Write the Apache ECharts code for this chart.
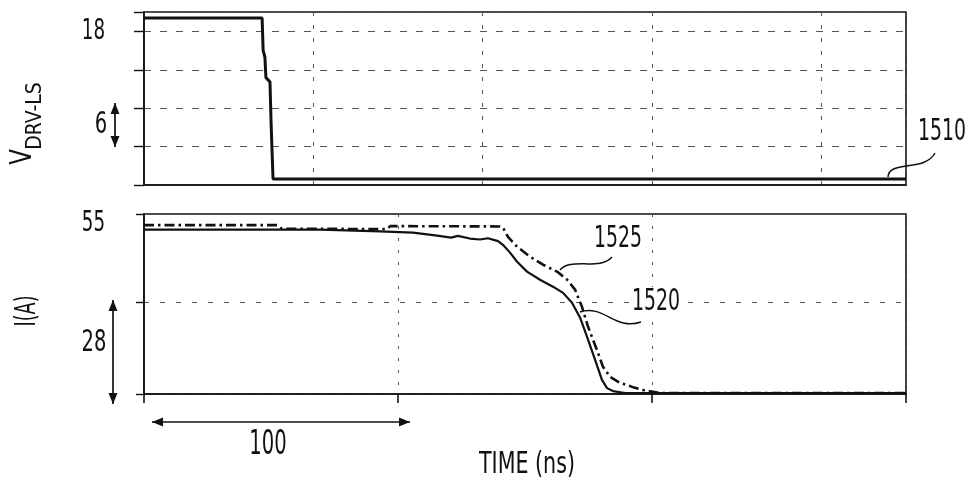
<!DOCTYPE html>
<html>
<head>
<meta charset="utf-8">
<script src="https://cdn.jsdelivr.net/npm/echarts@6/dist/echarts.min.js"></script>
<style>
  html, body { margin: 0; padding: 0; background: #fff; }
  #c { width: 974px; height: 487px; }
</style>
</head>
<body>
<div id="c"></div>
<script>
// Low-side gate drive voltage, trace 1510
const driveTime = [0, 46.5, 46.9, 47.6, 48.0, 49.6, 50.0, 50.4, 50.8, 300];
const driveVolt = [19.6, 19.6, 15.8, 15.0, 12.6, 12.1, 7.6, 4.1, 0.7, 0.7];

// Switch current, trace 1520 (solid)
const i1520Time = [0, 52.4, 69.3, 92.9, 105.9, 115.4, 120.9, 123.6, 128.3, 132.3, 135.4, 139.4,
  141.3, 144.1, 146.9, 150.8, 155.9, 161.0, 165.0, 168.5, 171.7, 174.4, 177.6, 180.3, 182.3,
  184.6, 189.4, 300];
const i1520Amp = [50.2, 50.2, 50.2, 49.7, 49.3, 48.4, 47.8, 48.3, 47.5, 47.2, 47.6, 46.7,
  45.6, 43.2, 40.4, 37.4, 34.9, 32.8, 30.9, 27.9, 23.3, 17.5, 10.4, 4.3, 1.8,
  0.9, 0.3, 0.3];

// Switch current, trace 1525 (dash-dot)
const i1525Time = [0, 52.4, 54.3, 95.7, 96.9, 140.2, 141.3, 143.3, 146.9, 151.9, 157.1, 162.6,
  166.5, 169.7, 172.4, 174.8, 178.3, 180.7, 183.5, 187.4, 192.5, 196.5, 203, 300];
const i1525Amp = [51.6, 51.6, 50.5, 50.4, 51.3, 51.2, 50.9, 48.0, 45.0, 42.0, 39.5, 37.4,
  35.0, 31.9, 26.7, 20.6, 13.5, 8.3, 5.2, 3.4, 2.1, 1.2, 0.3, 0.3];

// Printed tick labels on the value axes
const driveTickValues = [18];
const currentTickValues = [55];

// Scale-bar and reference-numeral texts
const driveScaleText = '6';
const currentScaleText = '28';
const timeScaleText = '100';
const timeAxisName = 'TIME (ns)';
const driveAxisMain = 'V';
const driveAxisSub = 'DRV-LS';
const currentAxisName = 'I(A)';
const refDrive = '1510';
const refSolid = '1520';
const refDashDot = '1525';

const FONT = '"Liberation Sans Narrow", "DejaVu Sans Condensed", "Liberation Sans", sans-serif';
const INK = '#111';
const NARROW = 0.7;   // horizontal squeeze for the condensed lettering

const pairs = (xs, ys) => xs.map((x, i) => [x, ys[i]]);

function txt(x, y, text, size, opts) {
  opts = opts || {};
  const el = {
    type: 'text', x: x, y: y, silent: true,
    scaleX: opts.scaleX !== undefined ? opts.scaleX : NARROW,
    style: Object.assign({
      text: text, fontSize: size, fontFamily: FONT, fill: INK,
      align: opts.align || 'center', verticalAlign: opts.verticalAlign || 'middle'
    }, opts.style || {})
  };
  if (opts.rotation !== undefined) el.rotation = opts.rotation;
  return el;
}

// Double-headed arrow built from a shaft and two filled heads
function arrow(x1, y1, x2, y2) {
  const len = Math.hypot(x2 - x1, y2 - y1);
  const ux = (x2 - x1) / len, uy = (y2 - y1) / len;
  const px = -uy, py = ux;
  const hl = 11, hw = 4.5;
  const head = (tx, ty, dx, dy) => ({
    type: 'polygon', silent: true,
    shape: { points: [[tx, ty], [tx - dx * hl + px * hw, ty - dy * hl + py * hw], [tx - dx * hl - px * hw, ty - dy * hl - py * hw]] },
    style: { fill: INK }
  });
  return [
    { type: 'line', silent: true, shape: { x1: x1, y1: y1, x2: x2, y2: y2 }, style: { stroke: INK, lineWidth: 1.7 } },
    head(x2, y2, ux, uy),
    head(x1, y1, -ux, -uy)
  ];
}

function leader(x1, y1, c1x, c1y, c2x, c2y, x2, y2) {
  return {
    type: 'bezierCurve', silent: true,
    shape: { x1: x1, y1: y1, cpx1: c1x, cpy1: c1y, cpx2: c2x, cpy2: c2y, x2: x2, y2: y2 },
    style: { stroke: INK, lineWidth: 1.5, fill: null }
  };
}

const chart = echarts.init(document.getElementById('c'), null, { renderer: 'canvas' });

const gridLine = (dash, color) => ({ show: true, lineStyle: { type: dash, color: color, width: 1 } });

chart.setOption({
  animation: false,
  backgroundColor: '#fff',
  grid: [
    { left: 144, top: 12, width: 762, height: 173, show: true, borderColor: INK, borderWidth: 1.6, backgroundColor: 'transparent' },
    { left: 144, top: 214, width: 762, height: 180, show: true, borderColor: INK, borderWidth: 1.6, backgroundColor: 'transparent' }
  ],
  xAxis: [
    {
      gridIndex: 0, type: 'value', min: 0, max: 300, interval: 200 / 3,
      axisLine: { show: true, lineStyle: { color: INK, width: 1.6 } },
      axisTick: { show: false }, axisLabel: { show: false },
      splitLine: gridLine([4, 9], '#555')
    },
    {
      gridIndex: 1, type: 'value', min: 0, max: 300, interval: 100,
      axisLine: { show: true, lineStyle: { color: INK, width: 1.6 } },
      axisTick: { show: true, inside: false, length: 9, lineStyle: { color: INK, width: 1.6 } },
      axisLabel: { show: false },
      splitLine: gridLine([3, 9], '#555')
    }
  ],
  yAxis: [
    {
      gridIndex: 0, type: 'value', min: 0, max: 20.3, interval: 4.5,
      axisLine: { show: true, lineStyle: { color: INK, width: 1.6 } },
      axisTick: { show: true, length: 10, lineStyle: { color: INK, width: 1.4 } },
      axisLabel: { show: false },
      splitLine: gridLine([7, 9], '#555')
    },
    {
      gridIndex: 1, type: 'value', min: 0, max: 55, interval: 28,
      axisLine: { show: true, lineStyle: { color: INK, width: 1.6 } },
      axisTick: { show: true, length: 8, lineStyle: { color: INK, width: 1.4 } },
      axisLabel: { show: false },
      splitLine: gridLine([5, 11], '#555')
    }
  ],
  series: [
    {
      name: refDrive, type: 'line', xAxisIndex: 0, yAxisIndex: 0,
      data: pairs(driveTime, driveVolt), showSymbol: false, smooth: false,
      lineStyle: { color: INK, width: 3 }
    },
    {
      name: refSolid, type: 'line', xAxisIndex: 1, yAxisIndex: 1,
      data: pairs(i1520Time, i1520Amp), showSymbol: false, smooth: false,
      lineStyle: { color: INK, width: 2.2 }
    },
    {
      name: refDashDot, type: 'line', xAxisIndex: 1, yAxisIndex: 1,
      data: pairs(i1525Time, i1525Amp), showSymbol: false, smooth: false,
      lineStyle: { color: INK, width: 2.6, type: [10, 4, 2.5, 4] }
    }
  ]
});

// Condensed tick labels placed at the axis values through the axis scales
const axisLeft = chart.convertToPixel({ xAxisIndex: 0 }, 0);
const tickLabels = [
  ...driveTickValues.map(v => txt(axisLeft - 39, chart.convertToPixel({ yAxisIndex: 0 }, v), String(v), 29, { align: 'right' })),
  ...currentTickValues.map(v => txt(axisLeft - 39, chart.convertToPixel({ yAxisIndex: 1 }, v) + 9, String(v), 29, { align: 'right' }))
];

chart.setOption({
  graphic: [
    ...tickLabels,
    // axis titles
    txt(23, 157, driveAxisMain, 30, { rotation: Math.PI / 2, scaleX: 0.85 }),
    txt(36, 116, driveAxisSub, 21, { rotation: Math.PI / 2, scaleX: 1 }),
    txt(28, 311, currentAxisName, 28, { rotation: Math.PI / 2 }),
    txt(527, 465, timeAxisName, 31, { scaleX: 0.74 }),
    // scale bars
    txt(101, 125, driveScaleText, 31),
    ...arrow(115, 103, 115, 147),
    txt(94, 343, currentScaleText, 31),
    ...arrow(113, 300, 113, 404),
    txt(268, 445, timeScaleText, 33, { scaleX: 0.66 }),
    ...arrow(152, 422, 410, 422),
    // reference numerals with leaders
    txt(942, 132, refDrive, 30),
    leader(888, 177, 889, 160, 925, 172, 935, 153),
    txt(618, 239, refDashDot, 30),
    leader(560, 270, 570, 257, 600, 271, 612, 257),
    txt(656, 302, refSolid, 30, { style: { backgroundColor: '#fff', padding: [0, 4] } }),
    leader(580, 312, 604, 304, 615, 331, 641, 322)
  ]
});
</script>
</body>
</html>
